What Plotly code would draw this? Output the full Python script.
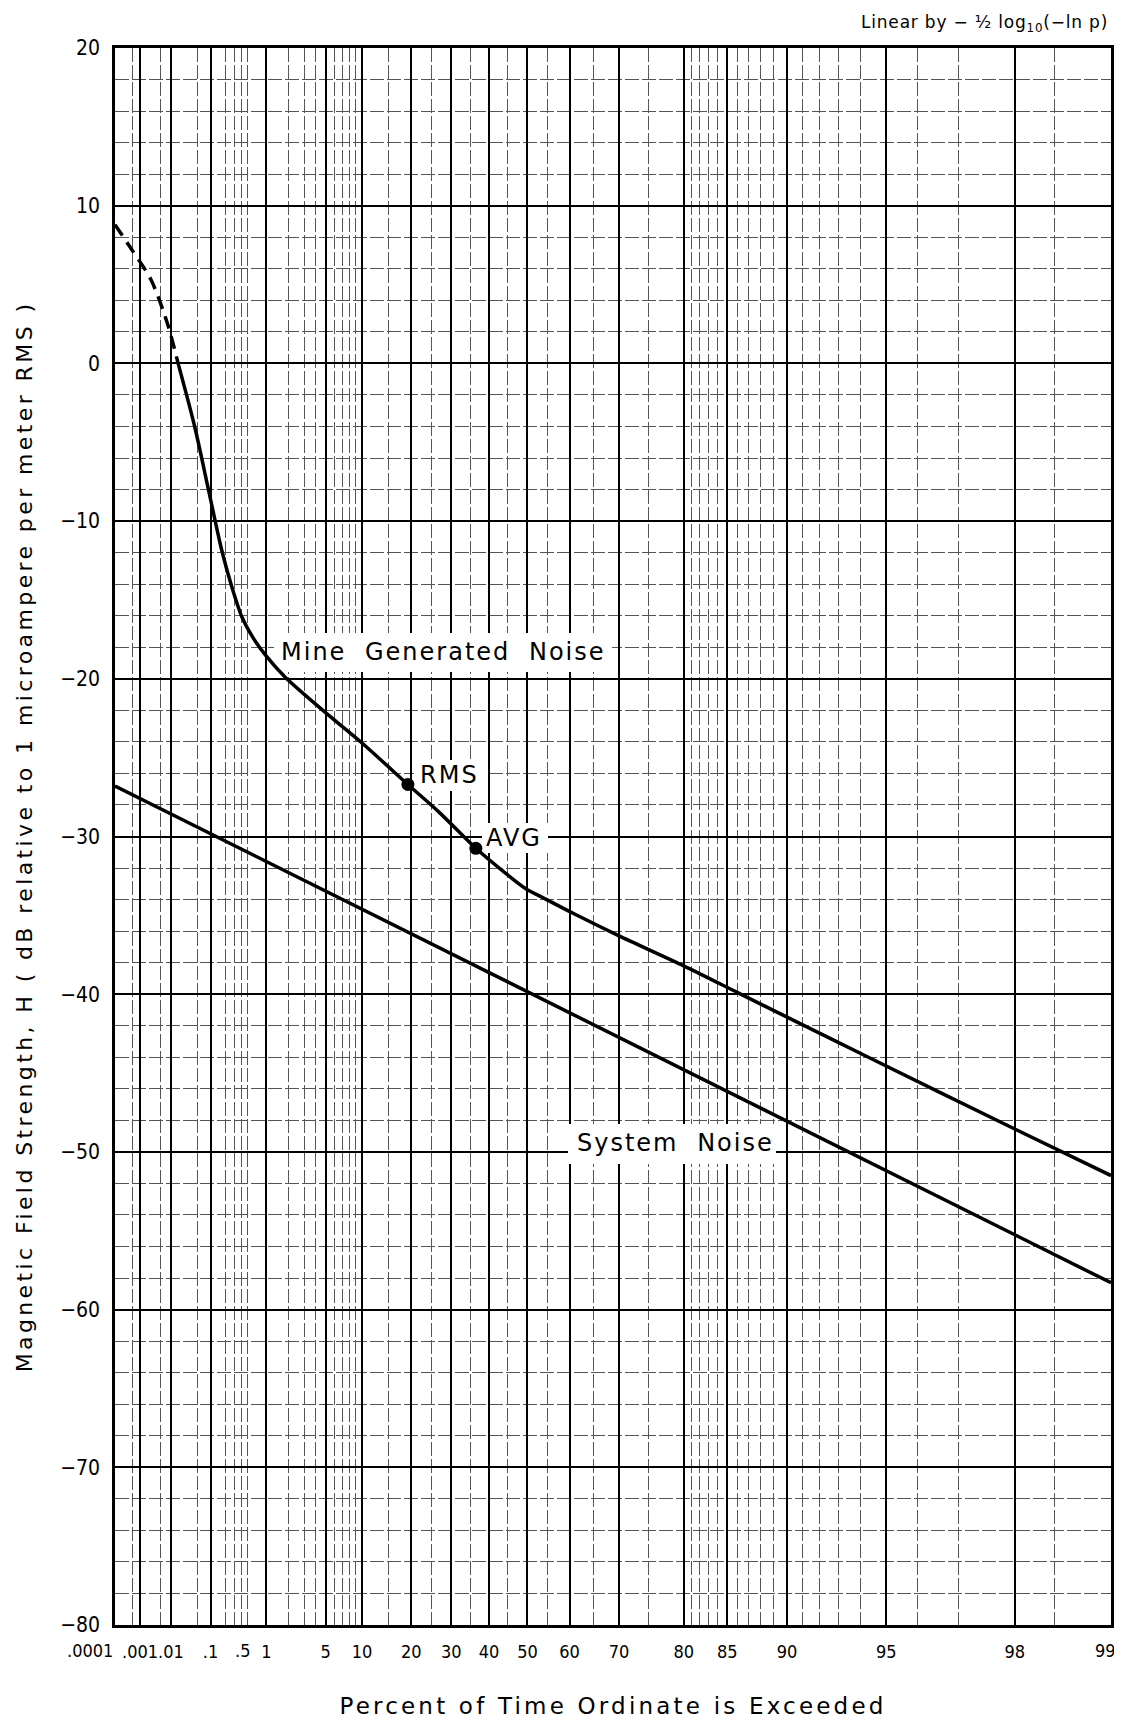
import numpy as np
import plotly.graph_objects as go

# ---------------- data ----------------
# Percent of time ordinate is exceeded (%), magnetic field strength (dB)
mine_dashed_pct = [0.0001, 0.00045, 0.0024, 0.008, 0.016]
mine_dashed_db = [8.8, 7.3, 5.3, 2.5, 0.0]

mine_pct = [0.016, 0.043, 0.09, 0.17, 0.27, 0.41, 0.65, 0.97, 1.8, 4.7, 10.1,
            19.2, 27, 36.5, 43.7, 49.5, 54.7, 61, 70, 80, 86, 90.2, 94.2, 98, 99]
mine_db = [0.0, -4.0, -8.0, -11.8, -14.2, -16.1, -17.5, -18.5, -19.9, -22.0,
           -24.1, -26.7, -28.5, -30.75, -32.2, -33.3, -34.0, -34.9, -36.3,
           -38.2, -39.9, -41.55, -43.9, -48.55, -51.5]

system_pct = [0.0001, 99]
system_db = [-26.8, -58.3]

marker_pct = [19.2, 36.5]
marker_db = [-26.7, -30.75]
marker_names = ["RMS", "AVG"]

# axis ticks (heavy rulings carry labels; light rulings are minor)
x_major_pct = [0.001, 0.01, 0.1, 1, 5, 10, 20, 30, 40, 50, 60,
               70, 80, 85, 90, 95, 98]
x_major_text = [".001", ".01", ".1", "1", "5", "10", "20", "30",
                "40", "50", "60", "70", "80", "85", "90", "95", "98"]
x_extra_labels = [(".0001", 115, "right"), (".5", 242, "center"), ("99", 1105, "center")]
x_minor_pct = [0.0005, 0.005, 0.05, 0.2, 0.3, 0.4, 0.5, 2, 3, 4, 6, 7, 8, 9, 15,
               25, 35, 45, 55, 65, 75, 81, 82, 83, 84, 86, 87, 88, 89, 91, 92,
               93, 94, 96, 97, 98.5]
y_range = [-80, 20]


def tx(p):
    """Linear by -1/2 log10(-ln p), p = fraction of time exceeded."""
    p = np.asarray(p, dtype=float) / 100.0
    return (-0.5 * np.log10(-np.log(p))).tolist()


x_range = [tx([0.0001])[0], tx([99])[0]]

# ---------------- layout geometry ----------------
# the page body adds an 8px offset; margins compensate for it
OFF = 8
W, H = 1122, 1721
ML, MR, MT, MB = 107, 19, 40, 104
PW, PH = W - ML - MR, H - MT - MB


def px_x(x):
    return (x - OFF - ML) / PW


def px_y(y):
    return 1 - (y - OFF - MT) / PH


def dx(x):
    return x_range[0] + px_x(x) * (x_range[1] - x_range[0])


def dy(y):
    return y_range[0] + px_y(y) * (y_range[1] - y_range[0])


NUMFONT = "DejaVu Sans Condensed, DejaVu Sans, sans-serif"
LABFONT = "DejaVu Sans, Noto Sans, sans-serif"

fig = go.Figure()

fig.add_trace(go.Scatter(
    x=tx(system_pct), y=system_db, mode="lines",
    line=dict(color="black", width=3.5), name="System Noise",
    showlegend=False, hoverinfo="skip"))

fig.add_trace(go.Scatter(
    x=tx(mine_dashed_pct), y=mine_dashed_db, mode="lines",
    line=dict(color="black", width=3.5, dash="13px,8px", shape="spline",
              smoothing=0.8),
    showlegend=False, hoverinfo="skip"))

fig.add_trace(go.Scatter(
    x=tx(mine_pct), y=mine_db, mode="lines",
    line=dict(color="black", width=3.5, shape="spline", smoothing=0.8),
    name="Mine Generated Noise", showlegend=False, hoverinfo="skip"))

fig.add_trace(go.Scatter(
    x=tx(marker_pct), y=marker_db, mode="markers",
    marker=dict(color="black", size=13), text=marker_names,
    showlegend=False, hoverinfo="skip"))


def styled(t, ls, ws=0):
    return '<span style="letter-spacing:%spx;word-spacing:%spx">%s</span>' % (ls, ws, t)


# label text, centre (px), word spacing, white blanking box (px): x0, x1, y0, y1
labels = [
    ("Mine Generated Noise", 443, 652, 9, (274, 612, 633, 672)),
    ("RMS", 449, 775, 0, (414, 486, 760, 791)),
    ("AVG", 514, 838, 0, (482, 548, 823, 853)),
    ("System Noise", 675, 1143, 9, (568, 776, 1124, 1164)),
]

annotations = []
shapes = []
for txt, cx, cy, ws, (x0, x1, y0, y1) in labels:
    annotations.append(dict(
        text=styled(txt, 2, ws), xref="paper", yref="paper",
        x=px_x(cx), y=px_y(cy), xanchor="center", yanchor="middle",
        showarrow=False, font=dict(family=LABFONT, size=24, color="black")))
    shapes.append(dict(
        type="rect", xref="x", yref="y", layer="between",
        x0=dx(x0), x1=dx(x1), y0=dy(y1), y1=dy(y0),
        fillcolor="white", line=dict(width=0)))

annotations.append(dict(
    text=styled("Linear by \u2212 \u00bd log<sub>10</sub>(\u2212ln p)", 0.8),
    xref="paper", yref="paper", x=px_x(1110), xanchor="right",
    y=px_y(24), yanchor="middle", showarrow=False,
    font=dict(family=LABFONT, size=17, color="black")))

for txt, cx, anchor in x_extra_labels:
    annotations.append(dict(
        text=txt, xref="paper", yref="paper", x=px_x(cx), xanchor=anchor,
        y=px_y(1650), yanchor="middle", showarrow=False,
        font=dict(family=NUMFONT, size=18, color="black")))

fig.update_layout(
    width=W, height=H,
    margin=dict(l=ML, r=MR, t=MT, b=MB),
    paper_bgcolor="white", plot_bgcolor="white",
    showlegend=False,
    annotations=annotations,
    shapes=shapes,
    xaxis=dict(
        range=x_range, automargin=False,
        tickmode="array", tickvals=tx(x_major_pct), ticktext=x_major_text,
        tickangle=0, tickfont=dict(family=NUMFONT, size=18, color="black"),
        ticks="", ticklabelstandoff=9,
        showgrid=True, gridcolor="black", gridwidth=1.6,
        minor=dict(tickmode="array", tickvals=tx(x_minor_pct), ticks="",
                   showgrid=True, gridcolor="#555", gridwidth=1,
                   griddash="14px,3px"),
        showline=True, mirror=True, linecolor="black", linewidth=2.5,
        zeroline=False,
        title=dict(text=styled("Percent of Time Ordinate is Exceeded", 3.2),
                   font=dict(family=LABFONT, size=23, color="black"),
                   standoff=37),
    ),
    yaxis=dict(
        range=y_range, tickmode="linear", tick0=0, dtick=10, automargin=False,
        tickfont=dict(family=NUMFONT, size=21, color="black"),
        ticks="", ticklabelstandoff=8,
        showgrid=True, gridcolor="black", gridwidth=1.6,
        minor=dict(tickmode="linear", dtick=2, ticks="", showgrid=True,
                   gridcolor="#555", gridwidth=1, griddash="14px,3px"),
        showline=True, mirror=True, linecolor="black", linewidth=2.5,
        zeroline=False,
        title=dict(text=styled("Magnetic Field Strength, H ( dB relative to 1 microampere per meter RMS )", 3.4),
                   font=dict(family=LABFONT, size=22, color="black"),
                   standoff=22),
    ),
)

fig.write_html("out.html")
